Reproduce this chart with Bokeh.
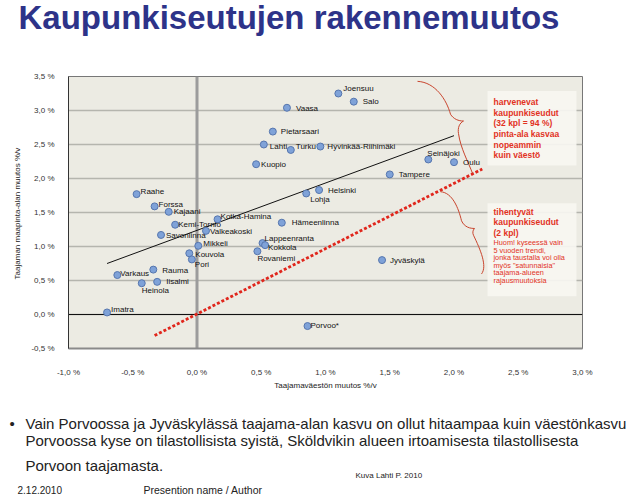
from bokeh.plotting import figure
from bokeh.layouts import column, row
from bokeh.models import ColumnDataSource, Range1d, FixedTicker, Span, CustomJSTickFormatter
from bokeh.core.properties import value
from bokeh.embed import file_html
from bokeh.resources import INLINE

# ---------------- data ----------------
cities = ["Joensuu", "Salo", "Vaasa", "Pietarsaari", "Lahti", "Turku", "Hyvinkää-Riihimäki",
          "Kuopio", "Seinäjoki", "Oulu", "Tampere", "Helsinki", "Lohja", "Hämeenlinna",
          "Raahe", "Forssa", "Kajaani", "Kemi-Tornio", "Kotka-Hamina", "Valkeakoski",
          "Savonlinna", "Mikkeli", "Kouvola", "Pori", "Lappeenranta", "Kokkola", "Rovaniemi",
          "Varkaus", "Rauma", "Heinola", "Iisalmi", "Imatra", "Porvoo*", "Jyväskylä"]
pop_change = [1.10, 1.22, 0.70, 0.59, 0.52, 0.73, 0.96,
              0.46, 1.80, 2.00, 1.50, 0.95, 0.85, 0.66,
              -0.47, -0.33, -0.22, -0.17, 0.16, 0.07,
              -0.28, 0.01, -0.06, -0.04, 0.51, 0.53, 0.47,
              -0.62, -0.34, -0.43, -0.31, -0.70, 0.86, 1.44]
area_change = [3.25, 3.13, 3.04, 2.69, 2.50, 2.42, 2.47,
               2.21, 2.28, 2.24, 2.06, 1.83, 1.78, 1.35,
               1.77, 1.59, 1.51, 1.32, 1.40, 1.23,
               1.17, 1.01, 0.90, 0.81, 1.05, 1.02, 0.93,
               0.58, 0.66, 0.46, 0.48, 0.03, -0.17, 0.80]

trend_x = [-0.70, 2.00]
trend_y = [0.75, 2.63]
equal_x = [-0.33, 2.22]
equal_y = [-0.31, 2.14]

x_ticks = [-1.0, -0.5, 0.0, 0.5, 1.0, 1.5, 2.0, 2.5, 3.0]
x_tick_labels = ["-1,0 %", "-0,5 %", "0,0 %", "0,5 %", "1,0 %", "1,5 %", "2,0 %", "2,5 %", "3,0 %"]
y_ticks = [-0.5, 0.0, 0.5, 1.0, 1.5, 2.0, 2.5, 3.0, 3.5]
y_tick_labels = ["-0,5 %", "0,0 %", "0,5 %", "1,0 %", "1,5 %", "2,0 %", "2,5 %", "3,0 %", "3,5 %"]

title_text = "Kaupunkiseutujen rakennemuutos"
x_title = "Taajamaväestön muutos %/v"
y_title = "Taajaman maapinta-alan muutos  %/v"
box1_bold = ["harvenevat", "kaupunkiseudut", "(32 kpl = 94 %)", "pinta-ala kasvaa", "nopeammin", "kuin väestö"]
box2_bold = ["tihentyvät", "kaupunkiseudut", "(2 kpl)"]
box2_note = ["Huom! kyseessä vain", "5 vuoden trendi,", "jonka taustalla voi olla",
             "myös \"satunnaisia\"", "taajama-alueen", "rajausmuutoksia"]
bullet_lines = ["Vain Porvoossa ja Jyväskylässä taajama-alan kasvu on ollut hitaampaa kuin väestönkasvu",
                "Porvoossa kyse on tilastollisista syistä, Sköldvikin alueen irtoamisesta tilastollisesta",
                "Porvoon taajamasta."]
source_text = "Kuva Lahti P. 2010"
footer_date = "2.12.2010"
footer_name = "Presention name / Author"

# ---------------- layout (pixel offsets of point labels) ----------------
label_dx = [5, 9, 9, 8, 6, 5, 7, 5, -1, 9, 9, 9, 4, 10,
            4, 4, 5, 3, 3, 4, 5, 5, 6, 3, 2, 3, 0,
            3, 9, 0, 9, 4, 3, 8]
label_dy = [-5, 0, 1, 0, 2, -3, 0, 0, -6, 0, 0, 0, 6, 0,
            -3, -2, 0, 0, -3, 1, 1, -2, 1, 5, -5, 2, 7,
            -2, 1, 7, 0, -3, -1, 0]

FONT = "Liberation Sans"
W = 639
HEAD_H, MAIN_H, FOOT_H = 44, 348, 108
MAIN_TOP = HEAD_H
FL, FR, FT, FB = 68, 57, 32, 35
XMIN, XMAX, YMIN, YMAX = -1.0, 3.0, -0.5, 3.5
FRAME_W = W - FL - FR
FRAME_H = MAIN_H - FT - FB
FRAME_BOTTOM_PAGE = MAIN_TOP + MAIN_H - FB

# page pixel -> data coordinate helpers (for annotations only)
def px(x):
    return XMIN + (x - FL) * (XMAX - XMIN) / FRAME_W

def py(y):
    return YMIN + (FRAME_BOTTOM_PAGE - y) * (YMAX - YMIN) / FRAME_H


def no_align(f):
    if "frame_align" in f.properties():
        f.frame_align = False
    return f


def text_panel(h, top):
    f = figure(width=W, height=h, x_range=Range1d(0, W), y_range=Range1d(top + h, top),
               output_backend="svg", toolbar_location=None, x_axis_type=None, y_axis_type=None,
               min_border=0, min_border_left=0, min_border_right=0, min_border_top=0, min_border_bottom=0)
    f.outline_line_color = None
    f.background_fill_color = "white"
    f.border_fill_color = "white"
    return no_align(f)


def put(f, text, x, y, size, color="#222222", style="normal"):
    f.text([x], [y], text=[text], text_font=value(FONT), text_font_size=size,
           text_font_style=style, text_color=color, text_baseline="middle", text_align="left")


# ---------------- header ----------------
head = text_panel(HEAD_H, 0)
put(head, title_text, 18, 17, "33px", color="#2d3389", style="bold")

# ---------------- main chart ----------------
p = figure(width=W, height=MAIN_H, x_range=Range1d(XMIN, XMAX), y_range=Range1d(YMIN, YMAX),
           output_backend="svg", toolbar_location=None,
           min_border_left=FL, min_border_right=FR, min_border_top=FT, min_border_bottom=FB)
no_align(p)
p.background_fill_color = "#ecebe3"
p.border_fill_color = "white"
p.outline_line_color = "#777777"
p.outline_line_width = 1

p.xgrid.visible = False
p.ygrid.ticker = FixedTicker(ticks=y_ticks)
p.ygrid.grid_line_color = "#b5b5ae"
p.ygrid.grid_line_width = 1.5

fmt_code = "const i = tv.findIndex(t => Math.abs(t - tick) < 1e-9); return i >= 0 ? tl[i] : '';"
p.xaxis.ticker = FixedTicker(ticks=x_ticks)
p.xaxis.formatter = CustomJSTickFormatter(args=dict(tv=x_ticks, tl=x_tick_labels), code=fmt_code)
p.yaxis.ticker = FixedTicker(ticks=y_ticks)
p.yaxis.formatter = CustomJSTickFormatter(args=dict(tv=y_ticks, tl=y_tick_labels), code=fmt_code)
for ax in (p.xaxis, p.yaxis):
    ax.major_tick_line_color = None
    ax.minor_tick_line_color = None
    ax.major_label_text_font = FONT
    ax.major_label_text_font_size = "8px"
    ax.major_label_text_color = "#333333"
    ax.axis_label_text_font = FONT
    ax.axis_label_text_font_size = "8px"
    ax.axis_label_text_font_style = "normal"
    ax.axis_label_text_color = "#222222"
p.xaxis.axis_line_color = "#8a8a8a"
p.xaxis.axis_line_width = 2
p.yaxis.axis_line_color = "#333333"
p.xaxis.major_label_standoff = 13
p.yaxis.major_label_standoff = 8
p.xaxis.axis_label = x_title
p.yaxis.axis_label = y_title
p.xaxis.axis_label_standoff = 1
p.yaxis.axis_label_standoff = 6

# reference lines
p.add_layout(Span(location=0, dimension="height", line_color="#9c9c9c", line_width=3, level="underlay"))
p.add_layout(Span(location=0, dimension="width", line_color="#111111", line_width=1, level="underlay"))

# annotation boxes
boxes = ColumnDataSource(dict(left=[px(487), px(487)], right=[px(576), px(576)],
                              top=[py(91), py(207)], bottom=[py(168), py(303)]))
p.quad(left="left", right="right", top="top", bottom="bottom", source=boxes,
       fill_color="#f7f6f1", fill_alpha=0.92, line_color=None)

# trend line and equal-growth line
p.line(trend_x, trend_y, line_color="#111111", line_width=1)
p.line(equal_x, equal_y, line_color="#e0261c", line_width=2.8, line_dash="3 2")

# braces
brace_segs = [
    [(417, 81), (435, 82), (446, 100), (450, 115)],
    [(450, 115), (453, 120), (458, 122), (463, 122)],
    [(463, 122), (459, 124), (457, 129), (458, 135)],
    [(458, 135), (460, 150), (468, 165), (472, 176)],
    [(440, 195), (452, 196), (458, 212), (461, 225)],
    [(461, 225), (464, 232), (470, 233), (474, 233)],
    [(474, 233), (472, 235), (472, 238), (473, 240)],
    [(473, 240), (480, 255), (487, 272), (481, 280)],
]
bs = dict(x0=[], y0=[], cx0=[], cy0=[], cx1=[], cy1=[], x1=[], y1=[])
for seg in brace_segs:
    (a0, b0), (c0, d0), (c1, d1), (a1, b1) = [(px(a), py(b)) for a, b in seg]
    bs["x0"].append(a0); bs["y0"].append(b0)
    bs["cx0"].append(c0); bs["cy0"].append(d0)
    bs["cx1"].append(c1); bs["cy1"].append(d1)
    bs["x1"].append(a1); bs["y1"].append(b1)
p.bezier(x0="x0", y0="y0", x1="x1", y1="y1", cx0="cx0", cy0="cy0", cx1="cx1", cy1="cy1",
         source=ColumnDataSource(bs), line_color="#c9452e", line_width=1)

# points and labels
src = ColumnDataSource(dict(x=pop_change, y=area_change, name=cities, dx=label_dx, dy=label_dy))
p.scatter("x", "y", source=src, size=7, fill_color="#7fa2d8", line_color="#5676ae", line_width=1)
p.text("x", "y", text="name", x_offset="dx", y_offset="dy", source=src,
       text_font=value(FONT), text_font_size="8px", text_baseline="middle", text_align="left",
       text_color="#111111")

# box texts
b1 = ColumnDataSource(dict(x=[px(493)] * len(box1_bold),
                           y=[py(102.7 + 10.9 * i) for i in range(len(box1_bold))], t=box1_bold))
p.text("x", "y", text="t", source=b1, text_font=value(FONT), text_font_size="8.5px",
       text_font_style="bold", text_color="#e2321f", text_baseline="middle")
b2 = ColumnDataSource(dict(x=[px(493)] * len(box2_bold),
                           y=[py(216 + 10.6 * i) for i in range(len(box2_bold))], t=box2_bold))
p.text("x", "y", text="t", source=b2, text_font=value(FONT), text_font_size="8.5px",
       text_font_style="bold", text_color="#e2321f", text_baseline="middle")
b3 = ColumnDataSource(dict(x=[px(493)] * len(box2_note),
                           y=[py(247.7 + 7.8 * i) for i in range(len(box2_note))], t=box2_note))
p.text("x", "y", text="t", source=b3, text_font=value(FONT), text_font_size="7.3px",
       text_color="#e2321f", text_baseline="middle")

# ---------------- footer ----------------
foot_top = HEAD_H + MAIN_H
foot = text_panel(FOOT_H, foot_top)
put(foot, "•", 9, 423, "15px")
for i, line in enumerate(bullet_lines):
    put(foot, line, 25, [423, 440, 465][i], "15px")
put(foot, source_text, 355, 475, "8px")
put(foot, footer_date, 17, 489, "10px")
put(foot, footer_name, 143, 489, "10.5px")

layout = column(row(head, spacing=0), p, row(foot, spacing=0), spacing=0)
open("out.html", "w").write(file_html(layout, INLINE))
